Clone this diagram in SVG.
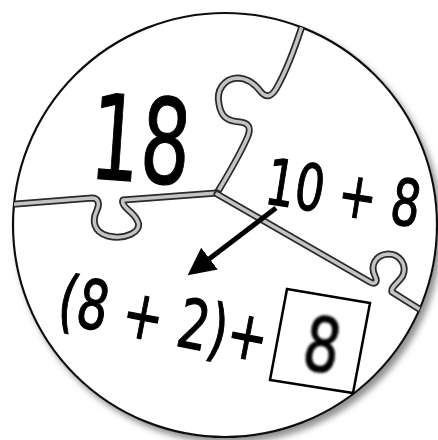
<svg xmlns="http://www.w3.org/2000/svg" width="438" height="440" viewBox="0 0 438 440">
<defs>
<style>
.hand{font-family:"DejaVu Sans","Liberation Sans",sans-serif;fill:#000;stroke:#000;stroke-width:1.2}
.cutO{fill:none;stroke:#2a2a2a;stroke-width:7;stroke-linejoin:round;stroke-linecap:round}
.cutI{fill:none;stroke:#c4c4c4;stroke-width:3.5;stroke-linejoin:round;stroke-linecap:round}
</style>
<filter id="sh" x="-10%" y="-10%" width="125%" height="125%">
<feDropShadow dx="4" dy="5" stdDeviation="3" flood-color="#777" flood-opacity="0.8"/>
</filter>
<filter id="blur"><feGaussianBlur stdDeviation="1.2"/></filter>
<clipPath id="cc"><circle cx="225" cy="225" r="212"/></clipPath>
<marker id="ah" viewBox="0 0 10 10" refX="8" refY="5" markerWidth="5.5" markerHeight="7" orient="auto" markerUnits="strokeWidth">
<path d="M0,0 L10,5 L0,10 z" fill="#000"/>
</marker>
</defs>
<rect width="438" height="440" fill="#fff"/>
<g id="disc">
<circle cx="225" cy="225" r="212" fill="#fff" stroke="#111" stroke-width="2.2" filter="url(#sh)"/>
</g>
<g id="connectors" clip-path="url(#cc)">
<path class="cutO" d="M304,20 C297,42 286,72 276,89 C271,97 266,98 261,92 C255,84 248,78 237,78 C224,79 216,90 219,104 C221,116 226,121 240,122 C249,123 251,128 248,136 C240,155 226,178 217,193"/>
<path class="cutI" d="M304,20 C297,42 286,72 276,89 C271,97 266,98 261,92 C255,84 248,78 237,78 C224,79 216,90 219,104 C221,116 226,121 240,122 C249,123 251,128 248,136 C240,155 226,178 217,193"/>
<path class="cutO" d="M5,205 L92,198 C98,198 100,203 97,210 C92,220 93,232 108,236 C125,240 142,232 138,222 C135,212 120,207 123,200 L217,193"/>
<path class="cutI" d="M5,205 L92,198 C98,198 100,203 97,210 C92,220 93,232 108,236 C125,240 142,232 138,222 C135,212 120,207 123,200 L217,193"/>
<path class="cutO" d="M217,194 L370,282 C375,285 378,282 375,276 C370,266 375,255 388,254 C400,254 407,265 403,275 C400,282 390,287 392,292 L440,322"/>
<path class="cutI" d="M217,194 L370,282 C375,285 378,282 375,276 C370,266 375,255 388,254 C400,254 407,265 403,275 C400,282 390,287 392,292 L440,322"/>
<line x1="276" y1="208" x2="192" y2="272" stroke="#000" stroke-width="5" marker-end="url(#ah)"/>
</g>
<g id="n18">
<text class="hand" transform="translate(88,178) rotate(4)" font-size="118" stroke-width="2" textLength="100" lengthAdjust="spacingAndGlyphs">18</text>
</g>
<g id="n10p8">
<text class="hand" transform="translate(263,203) rotate(9) scale(0.72,1)" font-size="64">10 + 8</text>
</g>
<g id="nsum">
<text class="hand" transform="translate(55,322) rotate(11)" font-size="68" textLength="212" lengthAdjust="spacingAndGlyphs">(8 + 2)+</text>
</g>
<g id="nbox">
<polygon points="287,289 370,303 353,393 270,380" fill="#fff" stroke="#000" stroke-width="2.5"/>
<text class="hand" transform="translate(300,368) rotate(10)" font-size="74" stroke-width="2" textLength="36" lengthAdjust="spacingAndGlyphs" filter="url(#blur)" fill="#111">8</text>
</g>
</svg>
